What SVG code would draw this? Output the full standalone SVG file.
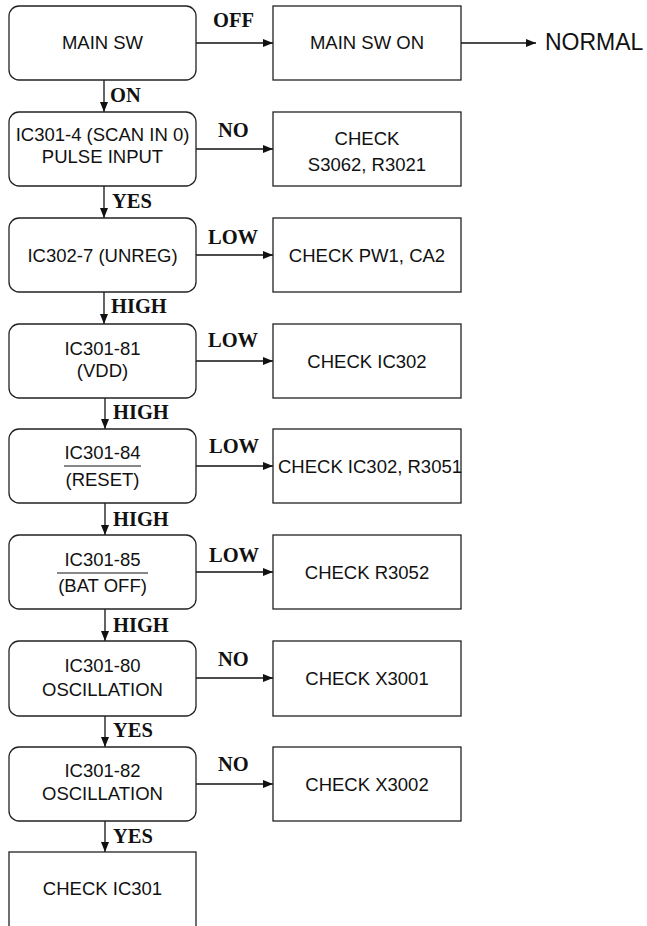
<svg xmlns="http://www.w3.org/2000/svg" width="647" height="926" viewBox="0 0 647 926">
<defs>
<style>
.rb{fill:#fff;stroke:#222;stroke-width:1.3}
.t{font-family:"Liberation Sans",Arial,sans-serif;font-size:18.5px;fill:#111;text-anchor:middle}
.l{font-family:"Liberation Serif","Times New Roman",serif;font-size:20.5px;font-weight:bold;fill:#111}
.c line{stroke:#111;stroke-width:1.3}
.ol{stroke:#111;stroke-width:1.2}
</style>
<marker id="ah" viewBox="0 0 10 8" refX="10" refY="4" markerWidth="10" markerHeight="8" markerUnits="userSpaceOnUse" orient="auto">
<path d="M0,0 L10,4 L0,8 z" fill="#111"/>
</marker>
</defs>
<rect width="647" height="926" fill="#fff"/>

<g id="connectors" class="c">
<line x1="196" y1="43" x2="273" y2="43" marker-end="url(#ah)"/>
<line x1="461" y1="43" x2="536" y2="43" marker-end="url(#ah)"/>
<line x1="196" y1="149" x2="273" y2="149" marker-end="url(#ah)"/>
<line x1="196" y1="255" x2="273" y2="255" marker-end="url(#ah)"/>
<line x1="196" y1="361" x2="273" y2="361" marker-end="url(#ah)"/>
<line x1="196" y1="466" x2="273" y2="466" marker-end="url(#ah)"/>
<line x1="196" y1="572" x2="273" y2="572" marker-end="url(#ah)"/>
<line x1="196" y1="678" x2="273" y2="678" marker-end="url(#ah)"/>
<line x1="196" y1="784" x2="273" y2="784" marker-end="url(#ah)"/>
<line x1="104" y1="80" x2="104" y2="112" marker-end="url(#ah)"/>
<line x1="104" y1="186" x2="104" y2="218" marker-end="url(#ah)"/>
<line x1="104" y1="292" x2="104" y2="324" marker-end="url(#ah)"/>
<line x1="105" y1="398" x2="105" y2="429" marker-end="url(#ah)"/>
<line x1="105" y1="503" x2="105" y2="535" marker-end="url(#ah)"/>
<line x1="105" y1="609" x2="105" y2="641" marker-end="url(#ah)"/>
<line x1="105" y1="716" x2="105" y2="747" marker-end="url(#ah)"/>
<line x1="105" y1="821" x2="105" y2="852" marker-end="url(#ah)"/>
<text class="l" x="213" y="27">OFF</text>
<text class="l" x="110" y="102">ON</text>
<text class="l" x="218" y="137">NO</text>
<text class="l" x="112" y="208">YES</text>
<text class="l" x="208" y="244">LOW</text>
<text class="l" x="111" y="313">HIGH</text>
<text class="l" x="208" y="347">LOW</text>
<text class="l" x="113" y="419">HIGH</text>
<text class="l" x="209" y="453">LOW</text>
<text class="l" x="113" y="526">HIGH</text>
<text class="l" x="209" y="562">LOW</text>
<text class="l" x="113" y="632">HIGH</text>
<text class="l" x="218" y="666">NO</text>
<text class="l" x="113" y="737">YES</text>
<text class="l" x="218" y="771">NO</text>
<text class="l" x="113" y="843">YES</text>
</g>

<g id="main-sw"><rect class="rb" x="9" y="6" width="187" height="74" rx="10"/><text class="t" x="102.5" y="49">MAIN SW</text></g>
<g id="main-sw-on"><rect class="rb" x="273" y="6" width="188" height="74"/><text class="t" x="367" y="49">MAIN SW ON</text></g>
<g id="normal"><text x="545" y="50" style="font-family:'Liberation Sans',Arial,sans-serif;font-size:23px;fill:#111">NORMAL</text></g>

<g id="scan-in"><rect class="rb" x="9" y="112" width="187" height="74" rx="10"/><text class="t" x="102.5" y="141">IC301-4 (SCAN IN 0)</text><text class="t" x="102.5" y="163">PULSE INPUT</text></g>
<g id="check-s3062"><rect class="rb" x="273" y="112" width="188" height="74"/><text class="t" x="367" y="145">CHECK</text><text class="t" x="367" y="171">S3062, R3021</text></g>

<g id="unreg"><rect class="rb" x="9" y="218" width="187" height="74" rx="10"/><text class="t" x="102.5" y="262">IC302-7 (UNREG)</text></g>
<g id="check-pw1"><rect class="rb" x="273" y="218" width="188" height="74"/><text class="t" x="367" y="262">CHECK PW1, CA2</text></g>

<g id="vdd"><rect class="rb" x="9" y="324" width="187" height="74" rx="10"/><text class="t" x="102.5" y="355">IC301-81</text><text class="t" x="102.5" y="377">(VDD)</text></g>
<g id="check-ic302"><rect class="rb" x="273" y="324" width="188" height="74"/><text class="t" x="367" y="368">CHECK IC302</text></g>

<g id="reset"><rect class="rb" x="9" y="429" width="187" height="74" rx="10"/><text class="t" x="102.5" y="459">IC301-84</text><line class="ol" x1="64" y1="466" x2="141" y2="466"/><text class="t" x="102.5" y="486">(RESET)</text></g>
<g id="check-ic302-r3051"><rect class="rb" x="273" y="429" width="188" height="74"/><text class="t" x="370" y="473">CHECK IC302, R3051</text></g>

<g id="bat-off"><rect class="rb" x="9" y="535" width="187" height="74" rx="10"/><text class="t" x="102.5" y="566">IC301-85</text><line class="ol" x1="57" y1="573" x2="148" y2="573"/><text class="t" x="102.5" y="592">(BAT OFF)</text></g>
<g id="check-r3052"><rect class="rb" x="273" y="535" width="188" height="74"/><text class="t" x="367" y="579">CHECK R3052</text></g>

<g id="osc80"><rect class="rb" x="9" y="641" width="187" height="75" rx="10"/><text class="t" x="102.5" y="672">IC301-80</text><text class="t" x="102.5" y="696">OSCILLATION</text></g>
<g id="check-x3001"><rect class="rb" x="273" y="641" width="188" height="75"/><text class="t" x="367" y="685">CHECK X3001</text></g>

<g id="osc82"><rect class="rb" x="9" y="747" width="187" height="74" rx="10"/><text class="t" x="102.5" y="777">IC301-82</text><text class="t" x="102.5" y="800">OSCILLATION</text></g>
<g id="check-x3002"><rect class="rb" x="273" y="747" width="188" height="74"/><text class="t" x="367" y="791">CHECK X3002</text></g>

<g id="check-ic301"><rect class="rb" x="9" y="852" width="187" height="100"/><text class="t" x="102.5" y="895">CHECK IC301</text></g>
</svg>
